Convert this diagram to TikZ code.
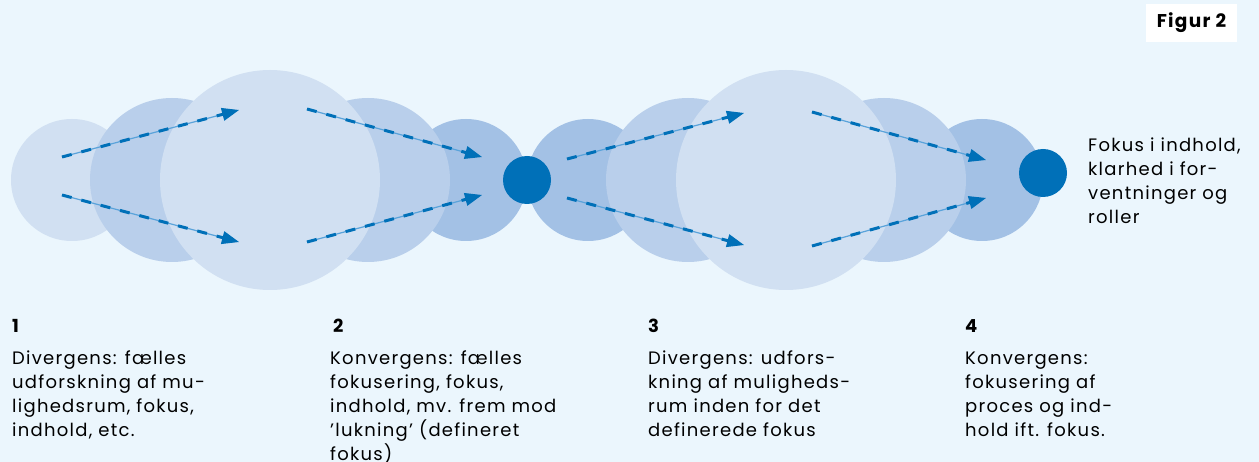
\documentclass[tikz,border=0pt]{standalone}
\usepackage{fontspec}
\setmainfont{Poppins}[LetterSpace=7]
\usetikzlibrary{arrows.meta}
\definecolor{bgc}{HTML}{EBF6FD}
\definecolor{cl}{HTML}{D1E0F2}
\definecolor{cm}{HTML}{B9CFEB}
\definecolor{cd}{HTML}{A3C1E5}
\definecolor{dotc}{HTML}{0070B8}
\definecolor{thinc}{HTML}{5AA3DA}
\newcommand\dasharr[2]{%
  \draw[thinln] (#1) -- (#2);
  \draw[dashln] (#1) -- (#2);}
\begin{document}
\begin{tikzpicture}[x=1pt,y=-1pt,
  txt/.style={anchor=north west,inner sep=0pt,align=left,font=\fontsize{18}{24}\selectfont},
  num/.style={anchor=base west,inner sep=0pt,font=\fontsize{18}{24}\selectfont\bfseries},
  thinln/.style={draw=thinc,line width=1.2pt,-{Triangle[length=17pt,width=13pt,color=dotc]}},
  dashln/.style={draw=dotc,line width=3pt,dash pattern=on 10pt off 10pt,shorten >=16pt},
  lightc/.style={fill=cl},
  medc/.style={fill=cm},
  darkc/.style={fill=cd},
  focus/.style={fill=dotc}]
\fill[bgc] (0,0) rectangle (1259,462);
\useasboundingbox (0,0) rectangle (1259,462);
% circles group 1 and 2
\fill[lightc] (72,180) circle (61);
\fill[darkc] (466,180) circle (61);
\fill[darkc] (588,180) circle (61);
\fill[darkc] (982,180) circle (61);
\fill[medc] (172,180) circle (82);
\fill[medc] (368,180) circle (82);
\fill[medc] (688,180) circle (82);
\fill[medc] (884,180) circle (82);
\fill[lightc] (270,180) circle (110);
\fill[lightc] (786,180) circle (110);
\fill[focus] (527,180) circle (24);
\fill[focus] (1043,173) circle (24);
% arrow end points
\coordinate (a1s) at (62,157);  \coordinate (a1e) at (239,110);
\coordinate (a2s) at (62,195);  \coordinate (a2e) at (239,242);
\coordinate (a3s) at (307,109); \coordinate (a3e) at (482,157);
\coordinate (a4s) at (307,242); \coordinate (a4e) at (482,195);
\coordinate (b1s) at (567,159); \coordinate (b1e) at (744,113);
\coordinate (b2s) at (567,198); \coordinate (b2e) at (744,245);
\coordinate (b3s) at (812,112); \coordinate (b3e) at (986,160);
\coordinate (b4s) at (812,246); \coordinate (b4e) at (986,198);
\dasharr{a1s}{a1e}
\dasharr{a2s}{a2e}
\dasharr{a3s}{a3e}
\dasharr{a4s}{a4e}
\dasharr{b1s}{b1e}
\dasharr{b2s}{b2e}
\dasharr{b3s}{b3e}
\dasharr{b4s}{b4e}
% title box
\node[fill=white,minimum width=91pt,minimum height=38pt,inner sep=0pt,
  font=\fontsize{18.5}{22}\selectfont\bfseries] (fig) at (1191.5,23) {Figur 2};
% right text
\node[txt] (res) at (1088,134.2) {\strut Fokus i indhold,\\klarhed i for-\\ventninger og\\roller};
% numbers
\node[num] (n1) at (12,333) {1};
\node[num] (n2) at (333,333) {2};
\node[num] (n3) at (648,333) {3};
\node[num] (n4) at (965,333) {4};
% descriptions
\node[txt] (t1) at (12,347.2) {\strut Divergens: fælles\\udforskning af mu-\\lighedsrum, fokus,\\indhold, etc.};
\node[txt] (t2) at (330,347.2) {\strut Konvergens: fælles\\fokusering, fokus,\\indhold, mv. frem mod\\'lukning' (defineret\\fokus)};
\node[txt] (t3) at (648,347.2) {\strut Divergens: udfors-\\kning af muligheds-\\rum inden for det\\definerede fokus};
\node[txt] (t4) at (965,347.2) {\strut Konvergens:\\fokusering af\\proces og ind-\\hold ift. fokus.};
\end{tikzpicture}
\end{document}
